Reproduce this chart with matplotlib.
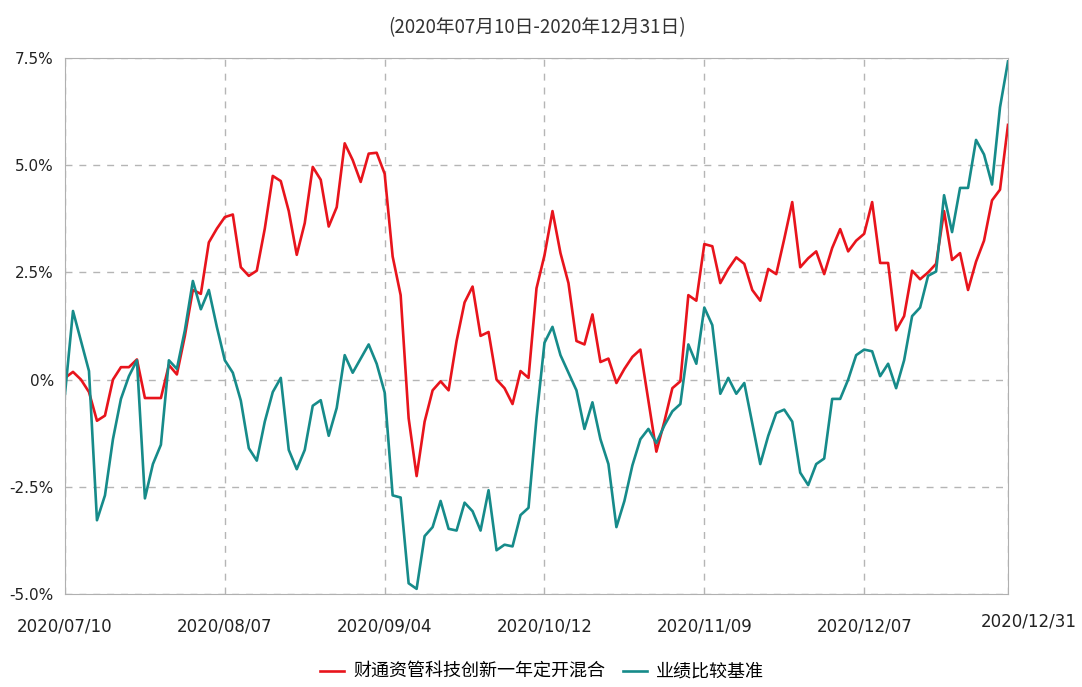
import matplotlib
matplotlib.use("Agg")
import matplotlib.pyplot as plt
from matplotlib.ticker import FuncFormatter
from matplotlib.transforms import ScaledTranslation

plt.rcParams["font.family"] = ["Noto Sans CJK SC", "DejaVu Sans"]

# 累计收益率 (%)，按交易日排列，2020/07/10 - 2020/12/31
fund = [
    0.04, 0.18, 0.0, -0.29, -0.96, -0.84, 0.0, 0.29, 0.29, 0.47,
    -0.43, -0.43, -0.43, 0.34, 0.12, 1.02, 2.09, 2.0, 3.2, 3.52,
    3.79, 3.85, 2.62, 2.42, 2.54, 3.52, 4.75, 4.63, 3.93, 2.91,
    3.65, 4.96, 4.66, 3.57, 4.02, 5.51, 5.12, 4.61, 5.27, 5.29,
    4.8, 2.87, 1.97, -0.9, -2.25, -0.98, -0.25, -0.04, -0.25, 0.9,
    1.8, 2.17, 1.02, 1.11, 0.0, -0.2, -0.57, 0.2, 0.04, 2.13,
    2.9, 3.93, 2.95, 2.25, 0.9, 0.82, 1.52, 0.41, 0.49, -0.08,
    0.25, 0.53, 0.7, -0.49, -1.68, -0.98, -0.2, -0.04, 1.97, 1.84,
    3.16, 3.11, 2.25, 2.58, 2.85, 2.7, 2.09, 1.84, 2.58, 2.46,
    3.28, 4.14, 2.62, 2.83, 2.99, 2.46, 3.07, 3.51, 2.99, 3.24,
    3.4, 4.14, 2.72, 2.72, 1.15, 1.48, 2.54, 2.34, 2.5, 2.7,
    3.93, 2.79, 2.95, 2.09, 2.75, 3.24, 4.18, 4.43, 5.94,
]
bench = [
    -0.33, 1.6, 0.9, 0.2, -3.28, -2.7, -1.39, -0.45, 0.08, 0.45,
    -2.77, -1.97, -1.52, 0.45, 0.25, 1.15, 2.3, 1.64, 2.09, 1.23,
    0.45, 0.16, -0.49, -1.6, -1.89, -0.98, -0.29, 0.04, -1.64, -2.09,
    -1.64, -0.61, -0.48, -1.31, -0.66, 0.57, 0.16, 0.49, 0.82, 0.37,
    -0.3, -2.7, -2.75, -4.75, -4.88, -3.65, -3.44, -2.83, -3.48, -3.52,
    -2.87, -3.07, -3.52, -2.58, -3.98, -3.85, -3.89, -3.16, -2.99, -0.9,
    0.86, 1.23, 0.57, 0.16, -0.25, -1.15, -0.53, -1.39, -1.97, -3.44,
    -2.83, -2.0, -1.39, -1.15, -1.48, -1.07, -0.74, -0.57, 0.82, 0.37,
    1.68, 1.27, -0.33, 0.04, -0.33, -0.08, -1.02, -1.97, -1.31, -0.78,
    -0.7, -0.98, -2.17, -2.46, -1.97, -1.84, -0.45, -0.45, 0.0, 0.57,
    0.7, 0.66, 0.08, 0.37, -0.2, 0.45, 1.48, 1.68, 2.42, 2.52,
    4.3, 3.44, 4.47, 4.47, 5.59, 5.25, 4.55, 6.35, 7.42,
]
tick_pos = [0, 20, 40, 60, 80, 100, 118]
tick_labels = ["2020/07/10", "2020/08/07", "2020/09/04", "2020/10/12",
               "2020/11/09", "2020/12/07", "2020/12/31"]
y_ticks = [-5.0, -2.5, 0, 2.5, 5.0, 7.5]

W, H = 1082, 687
fig = plt.figure(figsize=(W / 100, H / 100), dpi=100)
ax = fig.add_axes([65 / W, 1 - 594 / H, (1008 - 65) / W, (594 - 58) / H])

x = list(range(len(fund)))
ax.plot(x, fund, color="#e8141c", lw=1.9, label="财通资管科技创新一年定开混合")
ax.plot(x, bench, color="#168b8a", lw=1.9, label="业绩比较基准")

ax.set_xlim(0, len(fund) - 1)
ax.set_ylim(-5, 7.5)
ax.set_xticks(tick_pos)
ax.set_xticklabels(tick_labels, family="DejaVu Sans", fontsize=12, color="#222222")
ax.set_yticks(y_ticks)
ax.yaxis.set_major_formatter(FuncFormatter(lambda v, p: "0%" if v == 0 else f"{v:.1f}%"))
for lab in ax.get_yticklabels():
    lab.set_family("DejaVu Sans")
ax.tick_params(axis="y", labelsize=11, colors="#222222", length=0, pad=8)
ax.tick_params(axis="x", length=0, pad=17)

ax.grid(True, color="#b5b5b5", ls=(0, (5, 5)), lw=1)
for s in ax.spines.values():
    s.set_color("#b0b0b0")

fig.text(537 / W, 1 - 28 / H, "(2020年07月10日-2020年12月31日)", ha="center", va="center",
         fontsize=13.5, color="#333333")
fig.legend(loc="center", bbox_to_anchor=(542 / W, 1 - 672 / H), ncol=2, frameon=False,
           fontsize=13, handlelength=1.3, columnspacing=1.0, handletextpad=0.5)

# last date label sits a little right of the axis end (as in the source chart)
last = ax.get_xticklabels()[-1]
last.set_transform(last.get_transform() + ScaledTranslation(0.21, 0.05, fig.dpi_scale_trans))

fig.savefig("out.png", dpi=100)
